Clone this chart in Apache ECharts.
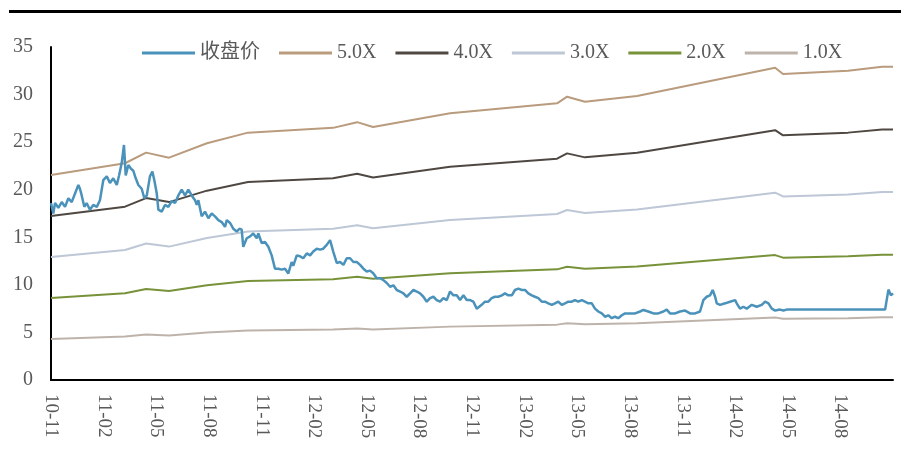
<style>body { margin: 0; }</style>
<div id="chart" style="width: 901px; height: 466px;"></div>
<script src="https://cdn.jsdelivr.net/npm/echarts@6/dist/echarts.min.js"></script>
<script>
const chart = echarts.init(document.getElementById('chart'));

// x 轴：自 2010-11 起的月份序号
const xTicks = [0, 3, 6, 9, 12, 15, 18, 21, 24, 27, 30, 33, 36, 39, 42, 45];

// 收盘价（月份序号 / 价格）
const priceMonth = [
  0.00, 0.13, 0.23, 0.42, 0.61, 0.80, 0.99, 1.18, 1.37, 1.56, 1.65, 1.75, 1.90, 2.03, 2.22, 2.41, 2.61, 2.79, 2.98, 3.18,
  3.36, 3.55, 3.75, 3.88, 4.03, 4.16, 4.26, 4.41, 4.56, 4.69, 4.83, 4.98, 5.17, 5.32, 5.46, 5.64, 5.78, 5.89, 6.03, 6.12,
  6.31, 6.50, 6.69, 6.88, 7.07, 7.26, 7.45, 7.64, 7.83, 8.02, 8.21, 8.31, 8.40, 8.59, 8.78, 8.97, 9.16, 9.35, 9.54, 9.73,
  9.92, 10.02, 10.21, 10.39, 10.59, 10.74, 10.87, 10.96, 11.16, 11.35, 11.53, 11.73, 11.82, 12.01, 12.20, 12.39, 12.58, 12.77, 12.96, 13.15,
  13.34, 13.53, 13.72, 13.81, 14.01, 14.20, 14.38, 14.58, 14.77, 14.95, 15.15, 15.34, 15.52, 15.72, 15.91, 16.09, 16.29, 16.48, 16.67, 16.86,
  17.05, 17.24, 17.43, 17.62, 17.81, 18.00, 18.19, 18.38, 18.57, 18.76, 18.95, 19.14, 19.33, 19.52, 19.71, 19.90, 20.09, 20.28, 20.47, 20.66,
  20.85, 21.04, 21.23, 21.42, 21.61, 21.80, 21.99, 22.18, 22.37, 22.56, 22.75, 22.94, 23.13, 23.32, 23.51, 23.70, 23.89, 24.08, 24.27, 24.36,
  24.55, 24.74, 24.93, 25.12, 25.31, 25.50, 25.70, 25.88, 26.07, 26.27, 26.45, 26.64, 26.84, 27.02, 27.21, 27.41, 27.59, 27.78, 27.98, 28.16,
  28.35, 28.55, 28.73, 28.92, 29.12, 29.30, 29.49, 29.69, 29.87, 30.06, 30.26, 30.44, 30.63, 30.83, 31.01, 31.20, 31.40, 31.58, 31.77, 31.97,
  32.15, 32.34, 32.54, 32.72, 33.01, 33.30, 33.58, 33.77, 34.05, 34.34, 34.62, 34.91, 35.10, 35.29, 35.58, 35.86, 36.15, 36.24, 36.43, 36.72,
  37.00, 37.19, 37.38, 37.57, 37.72, 37.86, 37.95, 38.14, 38.43, 38.71, 39.00, 39.09, 39.28, 39.47, 39.66, 39.95, 40.23, 40.52, 40.71, 40.90,
  41.09, 41.28, 41.56, 41.75, 41.94, 47.55, 47.74, 47.88, 48.00
];
const priceValue = [
  18.6, 17.5, 18.6, 18.1, 18.7, 18.2, 19.1, 18.7, 19.6, 20.5, 20.1, 19.4, 18.2, 18.6, 17.9, 18.4, 18.2, 18.9, 21.0, 21.4,
  20.7, 21.2, 20.5, 21.5, 22.8, 24.7, 21.5, 22.6, 22.2, 22.0, 21.2, 20.5, 20.1, 19.1, 19.4, 21.4, 21.9, 21.0, 19.6, 17.9,
  17.7, 18.4, 18.2, 18.8, 18.6, 19.4, 20.0, 19.4, 20.0, 19.4, 18.9, 18.4, 18.9, 17.2, 17.7, 17.0, 17.5, 17.2, 16.8, 16.6,
  16.1, 16.8, 16.5, 15.9, 15.6, 15.9, 15.8, 14.0, 14.9, 15.1, 15.4, 14.9, 15.4, 14.4, 14.5, 14.0, 13.1, 11.7, 11.7, 11.6,
  11.7, 11.2, 12.4, 12.0, 13.1, 13.0, 12.8, 13.3, 13.1, 13.5, 13.8, 13.7, 13.8, 14.2, 14.7, 13.5, 12.3, 12.4, 12.1, 12.8,
  12.8, 12.4, 12.4, 12.1, 11.7, 11.4, 11.5, 11.2, 10.7, 10.7, 10.5, 10.2, 9.8, 9.95, 9.46, 9.3, 9.1, 8.75, 9.1, 9.46,
  9.3, 9.1, 8.75, 8.23, 8.6, 8.75, 8.4, 8.23, 8.6, 8.4, 9.3, 8.9, 8.9, 8.4, 8.9, 8.4, 8.4, 8.23, 7.5, 7.36,
  7.9, 8.23, 8.23, 8.6, 8.75, 8.75, 8.9, 9.1, 8.9, 8.9, 9.46, 9.6, 9.46, 9.46, 9.1, 8.9, 8.75, 8.6, 8.23, 8.23,
  8.06, 7.9, 8.06, 8.23, 7.9, 8.06, 8.23, 8.23, 8.4, 8.23, 8.4, 8.23, 8.06, 8.06, 7.5, 7.2, 7.0, 6.65, 6.8, 6.5,
  6.65, 6.5, 6.8, 7.0, 7.0, 7.0, 7.2, 7.36, 7.2, 7.0, 7.0, 7.2, 7.4, 7.0, 7.0, 7.2, 7.3, 7.5, 7.0, 7.0,
  7.2, 8.4, 8.75, 8.9, 9.46, 8.75, 8.06, 7.9, 8.06, 8.23, 8.4, 8.06, 7.5, 7.7, 7.5, 7.9, 7.7, 7.9, 8.23, 8.06,
  7.5, 7.3, 7.4, 7.3, 7.4, 7.4, 9.5, 8.9, 9.1
];

// PE 估值带（拐点月份序号 / 各倍数价格）
const bandMonth = [0, 4.22, 5.42, 6.73, 8.89, 11.23, 16.08, 17.45, 18.36, 22.75, 28.85, 29.42, 30.44, 33.41, 41.28, 41.73, 45.44, 47.38, 48.0];
const band5x = [21.55, 22.78, 23.90, 23.37, 24.88, 26.00, 26.50, 27.10, 26.60, 28.03, 29.08, 29.78, 29.25, 29.85, 32.82, 32.16, 32.50, 32.93, 32.93];
const band4x = [17.24, 18.22, 19.12, 18.70, 19.90, 20.80, 21.20, 21.68, 21.28, 22.42, 23.26, 23.82, 23.40, 23.88, 26.26, 25.72, 26.00, 26.34, 26.34];
const band3x = [12.93, 13.67, 14.34, 14.02, 14.93, 15.60, 15.90, 16.26, 15.96, 16.82, 17.45, 17.87, 17.55, 17.91, 19.69, 19.29, 19.50, 19.76, 19.76];
const band2x = [8.62, 9.11, 9.56, 9.35, 9.95, 10.40, 10.60, 10.84, 10.64, 11.21, 11.63, 11.91, 11.70, 11.94, 13.13, 12.86, 13.00, 13.17, 13.17];
const band1x = [4.31, 4.56, 4.78, 4.67, 4.98, 5.20, 5.30, 5.42, 5.32, 5.61, 5.82, 5.96, 5.85, 5.97, 6.56, 6.43, 6.50, 6.59, 6.59];

const names = ['收盘价', '5.0X', '4.0X', '3.0X', '2.0X', '1.0X'];
const colors = ['#4B92BB', '#B99B7D', '#4F4842', '#BDC7D6', '#78923A', '#BDB3AB'];

const fontFamily = '"Liberation Serif", "Noto Sans CJK SC", serif';

function zip(xs, ys) {
  return xs.map((x, i) => [x, ys[i]]);
}

// 月份序号 -> yy-mm
function monthLabel(m) {
  if (xTicks.indexOf(m) < 0) return '';
  const total = 2010 * 12 + 10 + m;
  const yy = String(Math.floor(total / 12) % 100).padStart(2, '0');
  const mm = String(total % 12 + 1).padStart(2, '0');
  return yy + '-' + mm;
}

function bandSeries(name, color, values) {
  return {
    name: name,
    type: 'line',
    data: zip(bandMonth, values),
    symbol: 'none',
    lineStyle: { color: color, width: 2 },
    itemStyle: { color: color }
  };
}

const option = {
  animation: false,
  color: colors,
  graphic: [{
    type: 'rect',
    left: 9,
    top: 10,
    shape: { width: 892, height: 3 },
    style: { fill: '#000' }
  }],
  legend: {
    data: names,
    left: 142,
    top: 43,
    padding: 0,
    icon: 'rect',
    itemWidth: 53,
    itemHeight: 3,
    itemGap: 19,
    textStyle: { fontSize: 20, color: '#595959', fontFamily: fontFamily }
  },
  grid: { left: 51, right: 8, top: 47, bottom: 86, containLabel: false, outerBoundsMode: 'none' },
  xAxis: {
    type: 'value',
    min: 0,
    max: 48,
    interval: 3,
    axisLine: { show: true, lineStyle: { color: '#000', width: 2 } },
    axisTick: { show: false },
    splitLine: { show: false },
    axisLabel: {
      rotate: -90,
      margin: 14,
      fontSize: 19,
      color: '#595959',
      fontFamily: fontFamily,
      formatter: monthLabel
    }
  },
  yAxis: {
    type: 'value',
    min: 0,
    max: 35,
    interval: 5,
    axisLine: { show: true, lineStyle: { color: '#000', width: 2 } },
    axisTick: { show: false },
    splitLine: { show: false },
    axisLabel: { fontSize: 20, margin: 18, color: '#595959', fontFamily: fontFamily }
  },
  series: [
    bandSeries('5.0X', colors[1], band5x),
    bandSeries('4.0X', colors[2], band4x),
    bandSeries('3.0X', colors[3], band3x),
    bandSeries('2.0X', colors[4], band2x),
    bandSeries('1.0X', colors[5], band1x),
    {
      name: '收盘价',
      type: 'line',
      data: zip(priceMonth, priceValue),
      symbol: 'none',
      lineStyle: { color: colors[0], width: 2.5 },
      itemStyle: { color: colors[0] }
    }
  ]
};

chart.setOption(option);
</script>
